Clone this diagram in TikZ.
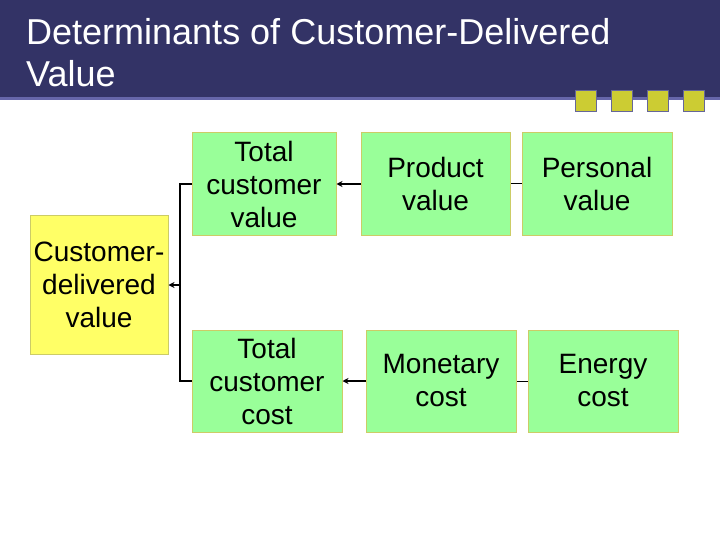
\documentclass[tikz,border=0pt]{standalone}
\usepackage{fontspec}
\setmainfont{Liberation Sans}
\usetikzlibrary{arrows.meta}
\definecolor{barblue}{HTML}{333366}
\definecolor{stripe}{HTML}{6666AA}
\definecolor{sqfill}{HTML}{CCCC33}
\definecolor{sqedge}{HTML}{666699}
\definecolor{boxgreen}{HTML}{99FF99}
\definecolor{boxyellow}{HTML}{FFFF66}
\definecolor{boxedge}{HTML}{CCCC66}
\tikzset{
  box/.style={draw=boxedge, line width=1pt, fill=boxgreen, inner sep=0pt,
    align=center, font=\fontsize{28}{33}\selectfont},
  sq/.style={draw=sqedge, line width=1.5pt, fill=sqfill, minimum width=21pt, minimum height=21pt, inner sep=0pt},
  link/.style={line width=2pt, black},
  arr/.style={line width=2pt, black, -{Stealth[length=6pt,width=6pt]}},
  thin/.style={line width=1pt, black},
  titletext/.style={text=white, font=\fontsize{36}{42}\selectfont, inner sep=0pt, anchor=base west}
}
\begin{document}
\begin{tikzpicture}[x=1pt,y=-1pt]
\useasboundingbox (0,0) rectangle (720,540);
\fill[white] (0,0) rectangle (720,540);
\fill[barblue] (0,0) rectangle (720,97);
\fill[stripe] (0,97) rectangle (720,100);
\node[titletext] (t1) at (26,45) {Determinants of Customer-Delivered};
\node[titletext] (t2) at (26,87) {Value};
\node[sq] (s1) at (586,101) {};
\node[sq] (s2) at (622,101) {};
\node[sq] (s3) at (658,101) {};
\node[sq] (s4) at (694,101) {};

\node[box, fill=boxyellow, minimum width=138pt, minimum height=138pt] (cdv) at (99,285) {Customer-\\delivered\\value};
\node[box, minimum width=144pt, minimum height=102pt] (tcv) at (264,184) {Total\\customer\\value};
\node[box, minimum width=149pt, minimum height=102pt] (pv) at (435.5,184) {Product\\value};
\node[box, minimum width=150pt, minimum height=102pt] (perv) at (597,184) {Personal\\value};
\node[box, minimum width=150pt, minimum height=102pt] (tcc) at (267,381) {Total\\customer\\cost};
\node[box, minimum width=150pt, minimum height=102pt] (mc) at (441,381) {Monetary\\cost};
\node[box, minimum width=150pt, minimum height=102pt] (ec) at (603,381) {Energy\\cost};

\coordinate (j) at (180,285);
\draw[link] (tcv.west) -- (180,184) -- (180,381) -- (tcc.west);
\draw[arr] (j) -- (cdv.east);
\draw[arr] (pv.west) -- (tcv.east);
\draw[arr] (mc.west) -- (tcc.east);
\draw[thin] (perv.west) -- (pv.east);
\draw[thin] (ec.west) -- (mc.east);
\end{tikzpicture}
\end{document}
